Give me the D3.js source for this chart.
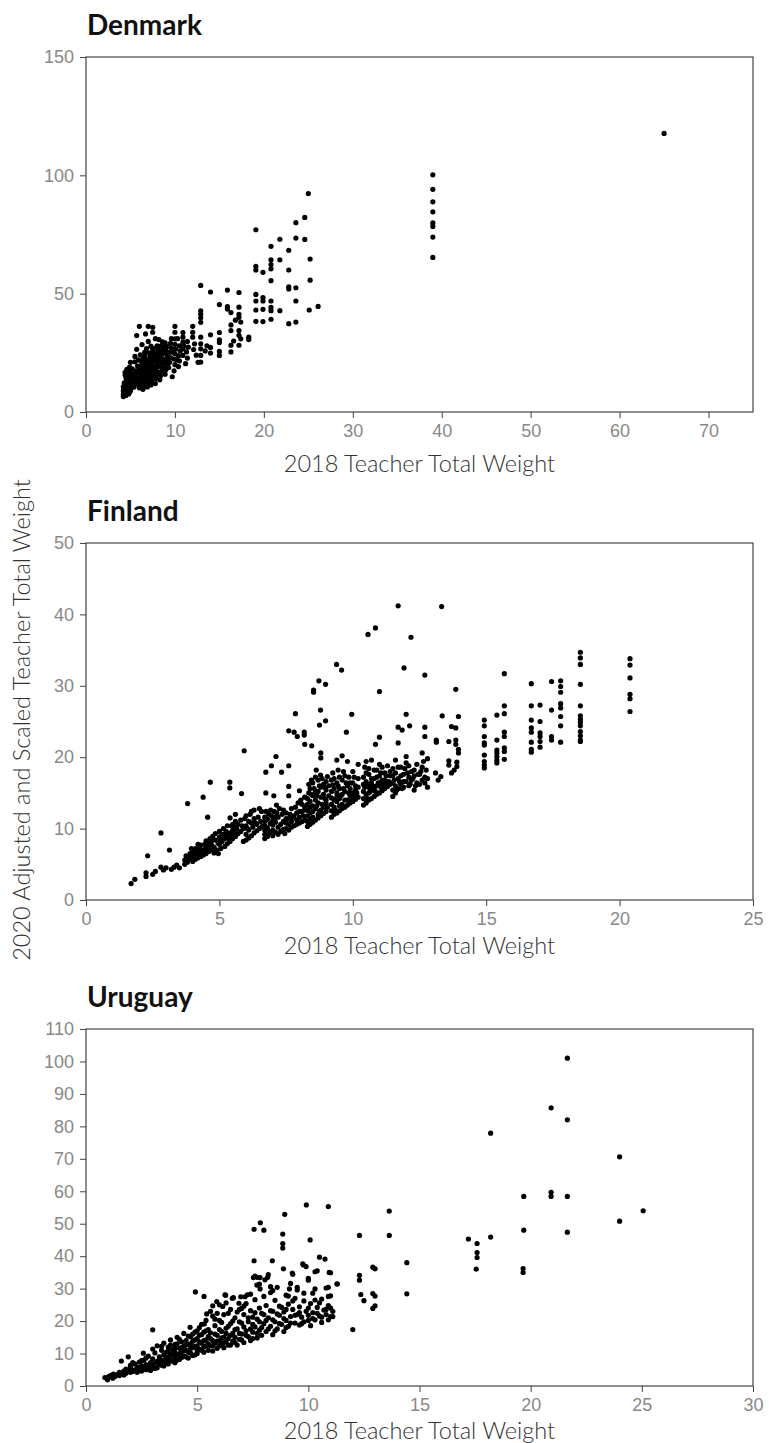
<!DOCTYPE html>
<html>
<head>
<meta charset="utf-8">
<script src="https://cdnjs.cloudflare.com/ajax/libs/d3/7.8.5/d3.min.js"></script>
<style>
  body { margin: 0; background: #fff; }
  svg { font-family: Lato, "Open Sans", sans-serif; }
  .tick text { fill: #888; font-weight: 300; font-size: 18px; }
  .tick line { stroke: #444; }
  .frame { fill: none; stroke: #444; stroke-width: 1.2; }
  .title { font-weight: 700; font-size: 28px; fill: #111; }
  .axlabel { font-weight: 300; font-size: 23.5px; fill: #333; }
</style>
</head>
<body>
<svg width="769" height="1443"></svg>
<script>
// ---- data: [2018 weight, 2020 weight] ----
var denmark = [
  [4.2,6.5],[4.2,7.5],[4.3,8.2],[4.2,9.0],[4.3,9.8],[4.2,10.6],[4.4,11.4],[4.3,12.3],[4.5,7.0],[4.5,8.6],
  [4.6,9.5],[4.5,10.3],[4.6,11.2],[4.7,12.0],[4.6,13.0],[4.8,7.6],[4.8,8.8],[4.9,10.0],[4.8,11.0],[4.9,12.6],
  [4.8,13.8],[5.0,9.0],[5.0,11.6],[5.1,14.5],[4.5,14.4],[4.4,15.6],[4.9,16.4],[5.2,10.4],[5.2,12.8],[5.3,15.6],
  [5.0,17.2],[4.9,19.0],[5.2,18.2],[5.5,16.0],[4.4,16.8],[4.6,18.0],[5.0,21.0],[5.5,21.2],[5.4,13.5],[5.6,11.8],
  [5.7,14.2],[5.8,19.4],[5.5,23.5],[5.7,26.5],
  [4.3,7.2],[4.4,8.0],[4.4,10.0],[4.5,12.6],[4.6,8.2],[4.7,10.6],[4.7,14.6],[4.8,9.8],[4.8,12.6],[4.9,8.4],
  [5.0,13.2],[5.1,10.2],[5.1,16.0],[5.2,11.4],[5.3,13.0],[5.4,10.6],[5.6,15.0],[5.6,17.4],[5.8,12.6],[5.8,16.4],
  [5.9,14.0],[5.9,22.0],[6.0,18.2],[6.1,24.2],[6.3,13.0],[6.3,16.0],[6.4,18.6],[6.4,22.6],[6.6,25.2],[6.8,15.6],
  [6.8,18.4],[6.8,21.2],[7.2,14.2],[7.2,19.6],[7.3,21.6],[7.3,24.6],[7.7,17.2],[7.7,19.4],[7.7,23.0],[7.8,27.0],
  [8.2,16.0],[8.2,19.8],[8.2,22.0],[8.3,24.8],[8.7,18.6],[8.7,21.6],[8.8,25.0],[8.8,27.4],[9.2,20.4],[9.3,22.6],
  [9.8,25.2],[10.2,22.0],[10.3,31.0],[11.0,28.0],
  [6.0,10.2],[6.0,11.6],[6.1,12.8],[6.1,14.0],[6.2,15.3],[6.0,16.6],[6.2,17.8],[6.1,19.0],[6.3,20.3],[6.2,21.6],
  [6.4,9.6],[6.5,11.0],[6.5,12.4],[6.6,13.7],[6.5,15.0],[6.6,16.4],[6.5,17.8],[6.7,19.2],[6.6,20.6],[6.7,22.0],
  [6.6,23.6],[6.9,10.6],[6.9,12.0],[7.0,13.4],[6.9,14.8],[7.0,16.2],[7.1,17.6],[7.0,19.0],[7.1,20.4],[7.0,22.0],
  [7.2,23.5],[7.1,25.0],[7.3,11.4],[7.4,13.0],[7.4,14.6],[7.5,16.0],[7.4,17.4],[7.5,18.8],[7.4,20.3],[7.6,21.8],
  [7.5,23.4],[7.6,25.0],[7.5,26.6],[7.8,12.0],[7.9,14.0],[7.8,15.6],[8.0,17.0],[7.9,18.6],[8.0,20.0],[7.9,21.6],
  [8.1,23.0],[8.0,24.6],[8.1,26.2],[8.0,28.0],[8.3,13.6],[8.4,15.4],[8.5,17.2],[8.4,19.0],[8.5,20.8],[8.6,22.4],
  [8.5,24.2],[8.6,26.0],[8.4,27.8],[8.6,29.6],[8.9,16.0],[9.0,18.0],[8.9,20.2],[9.0,22.2],[9.1,24.0],[9.0,25.8],
  [9.1,27.6],[8.9,29.2],
  [6.0,36.2],[7.0,36.2],[7.5,35.8],[7.5,33.7],[5.7,32.3],[6.7,33.0],[6.3,28.5],[7.0,29.8],[7.8,31.0],[8.2,30.6],
  [6.8,26.8],[7.3,27.8],
  [9.3,18.8],[9.4,21.0],[9.5,23.0],[9.4,25.2],[9.6,27.0],[9.5,29.0],[9.6,31.0],[9.7,14.9],[9.9,17.4],[10.0,20.0],
  [9.9,22.4],[10.0,24.6],[10.1,26.6],[10.0,28.6],[10.0,30.9],[10.0,33.7],[10.0,36.2],[10.4,19.2],[10.5,21.6],[10.4,23.8],
  [10.6,25.8],[10.5,28.0],[10.9,23.9],[10.9,26.7],[10.9,29.5],[10.9,31.6],[10.9,33.6],[11.2,20.4],[11.4,22.8],[11.3,25.4],
  [11.5,27.4],[11.4,29.8],
  [12.0,31.6],[12.0,33.7],[12.0,36.2],[12.1,26.4],[12.2,28.8],[12.4,24.0],[12.6,21.0],[12.9,21.1],[12.9,23.9],[12.9,26.7],
  [12.9,28.8],[12.9,31.6],[12.9,37.9],[12.9,39.8],[12.9,41.3],[12.9,42.7],[12.9,53.5],[13.4,25.8],[13.6,28.0],
  [14.0,50.7],[14.0,32.6],[14.0,27.3],[14.0,24.9],[15.0,45.4],[15.0,33.6],[15.0,30.5],[15.0,29.4],[15.0,25.6],[15.0,23.9],
  [15.9,51.5],[15.9,44.5],[15.9,43.5],[16.3,42.0],[16.3,36.8],[16.3,34.4],[16.3,28.2],[16.3,25.4],[16.6,30.0],[17.2,50.5],
  [17.2,44.3],[17.2,41.3],[17.2,40.0],[17.2,34.4],[17.2,32.4],[17.4,30.9],[17.2,28.2],[17.4,38.0],[18.3,31.6],[18.3,30.6],
  [16.8,38.8],
  [19.1,77.0],[19.1,61.5],[19.1,60.0],[19.9,59.0],[19.1,49.7],[19.1,46.9],[19.1,43.1],[19.1,38.3],[19.9,48.3],[19.9,46.9],
  [19.9,43.4],[19.9,38.2],[20.8,70.0],[20.8,64.3],[20.8,62.3],[20.8,60.5],[20.8,55.5],[20.8,46.9],[20.8,44.2],[20.8,42.8],
  [20.8,39.2],[21.8,73.0],[21.8,64.3],[21.8,42.8],[22.8,68.3],[22.8,60.0],[22.8,52.9],[22.8,52.0],[22.8,37.3],[23.6,80.0],
  [23.6,73.5],[23.6,52.5],[23.6,46.9],[23.6,38.0],[24.6,82.2],[24.6,72.9],[25.0,92.3],[25.2,64.6],[25.2,55.7],[25.1,43.1],
  [26.1,44.6],
  [39,100.2],[39,94.1],[39,88.8],[39,84.6],[39,79.9],[39,78.4],[39,73.9],[39,65.3],
  [65,117.7]
];

var finland = [
  [1.69,2.3],[1.83,2.9],[2.25,3.3],[2.25,3.8],[2.31,6.2],[2.5,3.6],[2.6,4.0],[2.81,4.6],[2.81,9.4],[2.9,4.2],
  [3.0,4.5],[3.13,7.0],[3.2,4.3],[3.3,4.6],[3.4,4.9],[3.5,4.5],
  [3.7,5.0],[3.7,5.6],[3.75,6.2],[3.8,5.3],[3.81,13.5],[3.9,5.8],[3.9,6.5],[4.0,5.4],[4.0,6.0],[4.0,6.8],
  [4.1,5.7],[4.1,6.4],[4.1,7.2],[4.2,5.9],[4.2,6.6],[4.25,7.4],[4.3,6.1],[4.3,6.9],[4.3,7.7],[4.39,14.4],
  [4.4,6.3],[4.4,7.0],[4.45,7.8],[4.5,6.5],[4.5,7.3],[4.55,8.0],[4.56,11.6],[4.6,6.8],[4.6,7.6],[4.66,16.5],
  [4.7,7.0],[4.7,8.2],
  [3.85,6.0],[3.95,7.2],[4.05,6.2],[4.15,6.9],[4.2,7.8],[4.35,6.5],[4.45,7.1],[4.5,8.3],[4.6,7.2],[4.65,8.6],
  [4.7,7.7],[4.75,8.9],
  [4.8,6.6],[4.8,7.4],[4.85,8.4],[4.9,7.0],[4.96,6.5],[5.0,7.8],[5.0,8.8],[5.05,7.2],[5.1,8.2],[5.1,9.2],
  [5.2,7.5],[5.2,8.6],[5.25,9.6],[5.3,7.9],[5.3,9.0],[5.39,16.5],[5.39,15.7],[5.4,8.2],[5.4,9.4],[5.4,11.5],
  [5.45,10.4],[5.5,8.6],[5.5,9.8],[5.6,8.9],[5.6,10.2],[5.6,11.0],[5.7,9.3],[5.7,10.6],[5.8,9.6],[5.8,11.2],
  [5.83,14.9],[5.93,20.9],[5.9,8.2],[5.9,10.0],[6.0,8.4],[6.0,9.2],[6.0,10.4],[6.0,11.8],[6.1,8.7],[6.1,9.8],
  [6.2,12.4],[6.2,9.0],[6.2,10.8],[6.3,9.4],[6.3,11.4],[6.4,9.7],[6.4,10.6],[6.5,10.0],[6.58,12.4],
  [4.85,9.3],[4.95,8.0],[5.0,9.6],[5.05,8.5],[5.15,10.0],[5.2,9.2],[5.3,10.4],[5.35,8.6],[5.45,9.2],[5.5,10.6],
  [5.55,9.5],[5.6,12.0],[5.65,10.0],[5.85,10.4],[5.95,11.4],[6.05,10.0],[6.1,11.0],[6.15,12.0],[6.25,10.2],[6.3,12.6],
  [6.35,10.8],[6.45,11.6],[6.5,12.8],[6.55,11.0],[6.6,10.3],
  [6.7,8.6],[6.7,9.2],[6.7,9.8],[6.7,10.4],[6.7,11.0],[6.7,11.6],[6.74,15.0],[6.74,17.9],[6.8,8.9],[6.8,10.1],
  [6.8,11.3],[6.85,12.0],[6.92,12.6],[6.95,18.8],[6.9,9.4],[6.9,10.7],[7.0,9.0],[7.0,9.8],[7.0,10.5],[7.0,11.2],
  [7.04,14.6],[7.1,9.5],[7.1,10.9],[7.12,20.1],[7.14,13.3],[7.2,9.2],[7.2,10.2],[7.2,11.6],[7.3,9.6],[7.3,10.6],
  [7.33,17.9],[7.4,9.9],[7.4,11.0],[7.45,9.3],
  [6.75,12.4],[6.85,9.6],[6.95,11.8],[7.05,12.4],[7.1,11.6],[7.15,12.2],[7.25,12.8],[7.35,12.0],[7.4,12.6],[7.5,11.4],
  [7.5,12.2],
  [7.5,10.0],[7.5,10.8],[7.6,9.8],[7.6,11.4],[7.6,15.9],[7.6,14.6],[7.6,18.8],[7.6,23.7],[7.7,10.2],[7.7,11.0],
  [7.8,10.4],[7.8,11.8],[7.8,23.5],[7.85,26.1],[7.9,10.6],[7.9,12.2],[7.92,22.9],[8.0,10.8],[8.0,11.6],[8.0,15.3],
  [8.1,11.0],[8.1,12.4],[8.18,23.5],[8.18,23.1],[8.2,21.8],[8.2,11.2],[8.2,13.0],
  [7.6,10.6],[7.65,12.0],[7.7,12.8],[7.75,11.6],[7.85,13.0],[7.9,11.2],[7.95,13.6],[8.0,12.4],[8.05,14.0],[8.1,13.4],
  [8.15,11.8],[8.2,14.4],[8.25,12.6],
  [8.3,10.3],[8.3,11.0],[8.3,11.8],[8.3,12.6],[8.3,13.4],[8.3,14.2],[8.35,15.0],[8.4,10.6],[8.4,12.2],[8.4,13.8],
  [8.4,15.6],[8.46,21.6],[8.5,10.9],[8.5,11.6],[8.5,12.4],[8.5,13.2],[8.5,14.6],[8.5,16.4],[8.53,29.4],[8.53,29.1],
  [8.6,11.2],[8.6,12.8],[8.6,14.0],[8.6,15.2],[8.63,18.2],[8.7,11.5],[8.7,12.0],[8.7,13.6],[8.7,16.8],[8.73,30.7],
  [8.75,24.5],[8.79,26.6],[8.79,17.5],[8.8,11.8],[8.8,12.6],[8.8,14.4],[8.8,15.8],[8.8,20.6],[8.8,19.9],[8.9,12.1],
  [8.9,13.0],[8.9,14.8],[8.9,16.2],[8.98,30.2],[8.98,25.1],[9.0,12.4],[9.0,13.5],[9.0,14.0],[9.0,15.4],[9.05,17.3],
  [8.35,16.2],[8.4,11.4],[8.4,13.0],[8.45,14.8],[8.45,16.8],[8.55,15.6],[8.6,17.2],[8.65,13.2],[8.65,14.6],[8.7,15.2],
  [8.75,16.0],[8.75,12.4],[8.85,13.4],[8.85,17.0],[8.95,14.2],[8.95,15.8],[9.0,16.6],[9.05,13.0],[9.1,14.6],[9.1,16.0],
  [9.2,11.6],[9.2,12.5],[9.2,13.4],[9.2,14.3],[9.2,15.2],[9.25,16.1],[9.3,12.0],[9.3,13.0],[9.3,17.0],[9.39,33.0],
  [9.4,12.2],[9.4,13.8],[9.4,15.0],[9.4,16.4],[9.4,19.6],[9.45,18.2],[9.5,12.5],[9.5,14.2],[9.5,15.6],[9.58,32.2],
  [9.6,12.8],[9.6,13.4],[9.6,14.8],[9.6,16.8],[9.6,20.2],[9.7,13.0],[9.7,15.2],[9.7,17.4],[9.76,23.5],[9.8,13.3],
  [9.8,14.0],[9.8,16.0],[9.8,19.4],[9.9,13.6],[9.9,14.6],[9.9,15.6],[9.96,26.0],[10.0,13.8],[10.0,15.0],[10.0,16.4],
  [10.0,18.0],[10.1,14.1],[10.1,15.4],[10.2,14.4],[10.2,17.0],[10.2,19.0],
  [9.2,16.8],[9.25,17.8],[9.3,14.0],[9.3,15.6],[9.35,12.6],[9.4,14.4],[9.45,16.0],[9.5,13.2],[9.5,17.2],[9.55,14.6],
  [9.65,15.6],[9.65,18.0],[9.7,14.0],[9.75,16.4],[9.85,15.0],[9.85,17.2],[9.9,16.4],[9.95,14.0],[10.05,14.6],[10.05,17.2],
  [10.1,16.0],[10.15,15.0],[10.2,15.8],
  [10.4,13.3],[10.4,14.2],[10.4,15.2],[10.4,16.2],[10.4,17.2],[10.45,18.6],[10.5,13.6],[10.5,14.8],[10.5,16.6],[10.5,19.4],
  [10.57,37.2],[10.6,14.0],[10.6,15.0],[10.6,15.8],[10.6,17.6],[10.7,14.2],[10.7,15.4],[10.7,16.4],[10.7,19.6],[10.8,14.5],
  [10.8,15.6],[10.8,17.0],[10.85,38.1],[10.85,21.8],[10.9,14.8],[10.9,16.0],[10.9,18.2],[11.0,29.2],[11.0,22.8],[11.0,15.0],
  [11.0,16.4],[11.0,17.4],[11.0,19.0],[11.1,15.3],[11.1,16.8],[11.2,15.6],[11.2,17.8],[11.3,15.9],[11.3,16.6],[11.4,16.2],
  [11.4,18.0],
  [10.45,15.8],[10.5,17.8],[10.55,14.2],[10.55,16.2],[10.6,18.4],[10.65,15.2],[10.7,17.0],[10.75,16.0],[10.8,18.2],[10.85,15.2],
  [10.9,17.2],[10.95,16.4],[11.05,15.8],[11.05,17.8],[11.1,18.6],[11.15,16.2],[11.2,16.8],[11.25,17.4],[11.3,18.8],[11.35,16.6],
  [11.4,17.4],
  [11.5,14.5],[11.5,15.4],[11.5,16.4],[11.5,17.4],[11.5,18.4],[11.6,15.0],[11.6,16.0],[11.6,19.6],[11.7,41.2],[11.7,24.2],
  [11.7,22.0],[11.7,15.6],[11.7,17.0],[11.8,16.2],[11.8,18.6],[11.85,23.8],[11.9,15.8],[11.9,17.6],[11.92,32.5],[12.0,26.0],
  [12.0,16.6],[12.0,19.2],[12.0,20.1],[12.1,16.0],[12.1,17.2],[12.13,24.4],[12.18,36.8],[12.2,16.8],[12.2,18.0],[12.3,17.4],
  [12.3,15.4],[12.4,16.4],[12.4,19.0],[12.5,16.2],[12.5,17.6],[12.6,18.6],[12.6,20.6],[12.7,31.5],[12.7,24.2],[12.7,22.9],
  [12.7,16.4],[12.7,17.2],[12.8,19.8],[12.8,15.8],
  [11.55,16.8],[11.6,17.8],[11.65,15.4],[11.7,18.6],[11.75,16.6],[11.8,17.4],[11.85,15.6],[11.9,16.6],[11.95,18.4],[12.05,17.8],
  [12.1,18.8],[12.15,16.2],[12.25,17.0],[12.3,18.2],[12.35,16.0],[12.45,17.6],[12.55,18.0],[12.6,16.8],[12.65,19.4],[12.75,18.2],
  [12.8,17.0],
  [13.1,17.8],[13.13,22.4],[13.13,22.1],[13.2,16.8],[13.3,17.3],[13.33,41.1],[13.35,25.8],[13.6,22.2],[13.6,19.5],[13.6,18.9],
  [13.7,17.8],[13.7,24.3],[13.86,29.5],[13.86,24.1],[13.86,22.4],[13.86,21.8],[13.9,18.7],[13.9,19.3],[13.96,25.7],[13.96,21.1],
  [13.96,20.6],[13.8,18.2],
  [14.93,25.2],[14.93,24.4],[14.93,22.9],[14.93,22.0],[14.93,21.7],[14.93,20.3],[14.93,19.4],[14.93,18.9],[14.93,18.5],
  [15.4,25.9],[15.4,22.4],[15.4,21.0],[15.4,20.6],[15.4,20.1],[15.4,19.6],[15.4,19.2],
  [15.68,31.7],[15.68,27.2],[15.68,26.1],[15.68,23.5],[15.68,22.9],[15.68,21.3],[15.68,20.8],[15.68,19.7],
  [16.69,30.3],[16.69,27.2],[16.69,25.2],[16.69,24.1],[16.69,23.5],[16.69,22.1],[16.69,21.1],[16.69,20.7],
  [17.02,27.3],[17.02,25.0],[17.02,23.4],[17.02,22.9],[17.02,22.2],[17.02,21.4],
  [17.45,30.6],[17.45,26.6],[17.45,22.9],[17.45,22.4],
  [17.79,30.7],[17.79,29.9],[17.79,29.1],[17.79,27.5],[17.79,26.9],[17.79,25.7],[17.79,24.4],[17.79,22.1],
  [18.53,34.7],[18.53,33.9],[18.53,33.0],[18.53,30.2],[18.53,27.2],[18.53,25.8],[18.53,25.3],[18.53,24.9],[18.53,24.4],
  [18.53,23.6],[18.53,23.0],[18.53,22.4],[18.53,22.2],
  [20.39,33.8],[20.39,32.9],[20.39,31.1],[20.39,28.8],[20.39,28.2],[20.39,26.4]
];

var uruguay = [
  [0.85,2.6],[0.97,1.9],[1.0,2.8],[1.1,3.2],[1.23,3.7],[1.3,2.9],[1.4,3.5],[1.5,4.2],[1.59,7.7],[1.6,3.8],
  [1.7,4.6],[1.8,5.2],[1.8,3.9],[1.9,9.0],[1.9,4.8],[2.0,5.6],[2.0,6.4],[2.1,4.5],[2.2,5.0],[2.2,6.8],
  [2.3,5.8],[2.4,4.9],[2.4,7.4],[2.5,6.2],[2.58,10.1],[2.6,5.4],[2.6,8.0],[2.7,6.6],[2.8,5.8],[2.8,9.2],
  [2.9,7.2],[2.9,4.8],[3.0,17.3],[3.0,6.2],[3.0,8.4],[3.1,10.2],[3.1,5.4],[3.2,7.6],[3.2,12.4],[3.3,6.8],
  [3.3,9.0],[3.4,8.0],[3.4,11.0],[3.5,6.2],[3.5,9.6],[3.5,13.2],[3.6,7.4],[3.6,10.4],[3.7,8.6],[3.7,12.0],
  [3.8,9.8],[3.8,14.2],[3.9,7.6],[3.9,11.2],[4.0,8.8],[4.0,10.4],[4.0,12.8],[4.1,9.6],[4.1,15.0],[4.2,11.6],
  [4.2,8.2],[4.3,10.6],[4.3,13.6],[4.4,9.2],[4.4,12.2],[4.4,16.2],[4.5,11.0],[4.5,14.0],[4.6,8.6],[4.6,12.8],
  [4.68,18.1],[4.7,10.2],[4.7,15.2],[4.8,11.8],[4.8,13.8],[4.92,29.0],[4.9,9.6],[4.9,16.6],[5.0,12.4],[5.0,14.6],
  [5.0,10.8],[5.1,18.0],[5.1,11.4],[5.2,13.2],[5.2,15.8],[5.3,10.4],[5.31,27.6],[5.32,19.1],[5.3,12.0],[5.4,14.2],
  [5.4,17.0],[5.43,22.2],[5.5,11.0],[5.5,13.0],[5.5,15.2],[5.6,12.4],[5.6,16.4],[5.7,24.7],[5.7,21.5],[5.7,14.0],
  [5.7,10.8],[5.8,13.2],[5.8,18.6],[5.88,26.0],[5.9,11.6],[5.9,15.6],[6.0,14.0],[6.0,12.4],[6.0,20.2],[6.1,16.8],
  [6.15,24.5],[6.1,13.0],[6.2,11.8],[6.2,15.0],[6.25,28.1],[6.3,17.8],[6.3,13.6],[6.4,22.4],[6.4,14.6],[6.5,12.6],
  [6.5,19.2],[6.6,16.2],[6.63,27.2],[6.6,13.8],[6.7,21.0],[6.7,15.0],[6.8,17.6],[6.8,12.6],[6.9,23.6],[6.9,14.4],
  [6.96,27.5],[7.0,19.4],[7.0,16.0],[7.1,13.4],[7.1,22.0],[7.2,17.0],[7.2,25.4],[7.26,28.1],[7.3,15.2],[7.3,19.8],
  [7.4,14.0],[7.4,23.2],[7.5,16.6],[7.5,21.2],[7.53,33.4],[7.56,48.3],[7.56,38.6],[7.6,18.2],[7.6,26.6],[7.68,31.1],
  [7.7,14.8],[7.7,20.6],[7.8,17.2],[7.8,24.0],[7.83,33.4],[7.83,29.9],[7.84,50.3],[7.9,15.6],[7.9,22.4],[8.0,48.0],
  [8.0,19.2],[8.0,27.6],[8.1,16.8],[8.1,24.8],[8.2,34.3],[8.2,21.0],[8.3,18.4],[8.3,28.8],[8.38,38.6],[8.4,15.8],
  [8.4,23.0],[8.5,19.8],[8.5,26.4],[8.6,17.6],[8.6,30.4],[8.7,21.8],[8.7,24.6],[8.8,19.0],[8.85,46.8],[8.85,43.9],
  [8.85,42.5],[8.88,36.1],[8.9,16.8],[8.9,22.8],[8.94,52.9],[9.0,28.0],[9.0,20.2],[9.1,25.2],[9.1,18.4],[9.2,31.6],
  [9.2,21.4],[9.3,34.4],[9.3,23.6],[9.4,19.4],[9.4,27.0],[9.5,22.0],[9.5,29.6],[9.6,18.8],[9.6,24.4],[9.7,21.2],
  [9.75,37.6],[9.8,26.2],[9.8,19.8],[9.9,36.8],[9.91,55.8],[9.9,23.0],[10.0,32.6],[10.0,21.8],[10.08,45.0],[10.1,25.4],
  [10.1,18.6],[10.2,28.6],[10.2,22.6],[10.3,20.4],[10.4,35.5],[10.4,24.2],[10.5,39.7],[10.5,21.6],[10.6,26.8],[10.6,19.6],
  [10.7,23.4],[10.75,39.1],[10.8,22.0],[10.8,30.2],[10.9,55.3],[10.94,35.0],[10.9,24.8],[11.0,21.4],[11.0,27.8],[11.1,23.0],
  [11.29,31.5],
  [1.2,2.4],[1.5,3.2],[1.7,3.4],[2.0,4.2],[2.1,7.2],[2.3,4.2],[2.5,4.6],[2.5,7.8],[2.7,5.0],[2.7,8.6],
  [2.9,6.0],[3.0,11.4],[3.1,7.0],[3.2,5.6],[3.3,8.2],[3.4,6.4],[3.4,12.2],[3.5,7.8],[3.6,9.0],[3.7,6.8],
  [3.7,10.8],[3.8,8.0],[3.8,12.6],[3.9,9.4],[4.0,7.2],[4.0,11.6],[4.1,8.0],[4.1,13.0],[4.2,10.0],[4.2,14.4],
  [4.3,8.8],[4.3,11.8],[4.4,10.8],[4.5,9.0],[4.5,12.6],[4.6,10.4],[4.6,15.4],[4.7,11.6],[4.7,13.0],[4.8,9.4],
  [4.8,16.0],[4.9,12.2],[4.9,14.2],[5.0,10.0],[5.0,17.0],[5.1,13.6],[5.1,15.6],[5.2,11.0],[5.2,19.0],[5.3,14.0],
  [5.3,16.6],[5.4,12.4],[5.4,20.2],[5.5,17.4],[5.6,14.6],[5.6,23.0],[5.7,12.4],[5.8,16.0],[5.8,20.6],[5.9,13.8],
  [5.9,22.4],[6.0,17.4],[6.0,25.0],[6.1,14.8],[6.1,19.6],[6.2,13.4],[6.2,22.0],[6.3,16.2],[6.3,25.6],[6.4,18.4],
  [6.4,12.6],[6.5,15.6],[6.5,23.6],[6.6,20.0],[6.7,13.4],[6.7,17.4],[6.8,22.8],[6.9,16.2],[6.9,19.8],[7.0,14.2],
  [7.1,18.2],[7.1,24.6],[7.2,15.6],[7.3,21.0],[7.4,17.6],[7.5,14.6],[7.5,19.0],[7.6,22.6],[7.7,16.2],[7.8,19.8],
  [7.9,18.0],[8.0,22.0],[8.1,20.2],[8.2,17.6],[8.3,23.2],[8.4,20.4],[8.5,17.0],[8.6,22.2],[8.7,19.2],[8.8,24.2],
  [8.9,20.8],[9.0,18.0],[9.0,23.6],[9.2,19.4],[9.3,26.2],[9.4,21.8],[9.6,22.6],[9.7,19.2],[9.8,28.6],[10.0,20.2],
  [10.0,24.0],[10.2,20.8],[10.4,22.4],[10.5,25.6],[10.6,21.2],[10.8,23.6],[10.9,20.4],[11.0,24.0],[11.1,21.4],
  [7.6,33.9],[7.7,33.5],[8.05,32.7],[8.17,33.5],[7.8,31.4],[8.3,30.6],[8.4,29.4],[9.28,34.8],[9.78,37.3],[10.0,33.2],
  [10.3,35.2],[11.0,34.9],[11.3,31.4],[9.15,29.9],[9.5,30.4],[9.1,27.7],[10.9,30.4],[10.9,27.6],[10.3,29.9],[10.3,26.5],
  [6.28,28.0],[6.58,27.0],[6.88,25.5],[7.0,23.9],[7.15,27.5],[7.4,28.3],
  [12.0,17.4],[12.3,46.4],[12.9,36.6],[13.0,36.1],[12.3,34.1],[12.3,32.6],[12.36,28.2],[12.5,26.3],[12.9,28.5],[13.0,27.7],
  [13.0,24.7],[12.9,23.9],[13.64,53.9],[13.64,46.4],[14.43,38.0],[14.43,28.4],
  [17.2,45.3],[17.59,43.9],[17.59,41.1],[17.59,39.6],[17.55,36.0],[18.2,45.9],[18.2,77.9],[19.69,58.4],[19.69,48.0],[19.66,36.2],
  [19.66,35.0],[20.92,85.7],[20.92,59.7],[20.92,58.4],[21.65,101.0],[21.65,82.0],[21.65,58.4],[21.65,47.4],[24.0,70.6],[24.0,50.8],
  [25.06,54.0]
];

var panels = [
  { name: "Denmark", pts: denmark, xmax: 75, xticks: [0,10,20,30,40,50,60,70], ymax: 150, yticks: [0,50,100,150], top: 57, bottom: 412, lab: 60 },
  { name: "Finland", pts: finland, xmax: 25, xticks: [0,5,10,15,20,25], ymax: 50, yticks: [0,10,20,30,40,50], top: 543, bottom: 900, lab: 54 },
  { name: "Uruguay", pts: uruguay, xmax: 30, xticks: [0,5,10,15,20,25,30], ymax: 110, yticks: d3.range(0, 111, 10), top: 1029, bottom: 1386, lab: 53 }
];

var svg = d3.select("svg");
var left = 86, right = 753;

panels.forEach(function(p) {
  var x = d3.scaleLinear().domain([0, p.xmax]).range([left, right]);
  var y = d3.scaleLinear().domain([0, p.ymax]).range([p.bottom, p.top]);
  var g = svg.append("g");

  g.append("text").attr("class", "title")
    .attr("x", left + 1).attr("y", p.top - 22)
    .text(p.name);

  g.append("g")
    .attr("transform", "translate(0," + p.bottom + ")")
    .call(d3.axisBottom(x).tickValues(p.xticks).tickSize(6).tickPadding(6))
    .call(function(a) { a.select(".domain").remove(); });

  g.append("g")
    .attr("transform", "translate(" + left + ",0)")
    .call(d3.axisLeft(y).tickValues(p.yticks).tickSize(6).tickPadding(6))
    .call(function(a) { a.select(".domain").remove(); });

  g.append("rect").attr("class", "frame")
    .attr("x", left).attr("y", p.top)
    .attr("width", right - left).attr("height", p.bottom - p.top);

  g.append("g").selectAll("circle")
    .data(p.pts)
    .enter().append("circle")
    .attr("cx", function(d) { return x(d[0]); })
    .attr("cy", function(d) { return y(d[1]); })
    .attr("r", 2.6)
    .attr("fill", "#000");

  g.append("text").attr("class", "axlabel")
    .attr("x", (left + right) / 2).attr("y", p.bottom + p.lab)
    .attr("text-anchor", "middle")
    .text("2018 Teacher Total Weight");
});

svg.append("text").attr("class", "axlabel")
  .attr("transform", "translate(30,720) rotate(-90)")
  .attr("text-anchor", "middle")
  .text("2020 Adjusted and Scaled Teacher Total Weight");
</script>
</body>
</html>
